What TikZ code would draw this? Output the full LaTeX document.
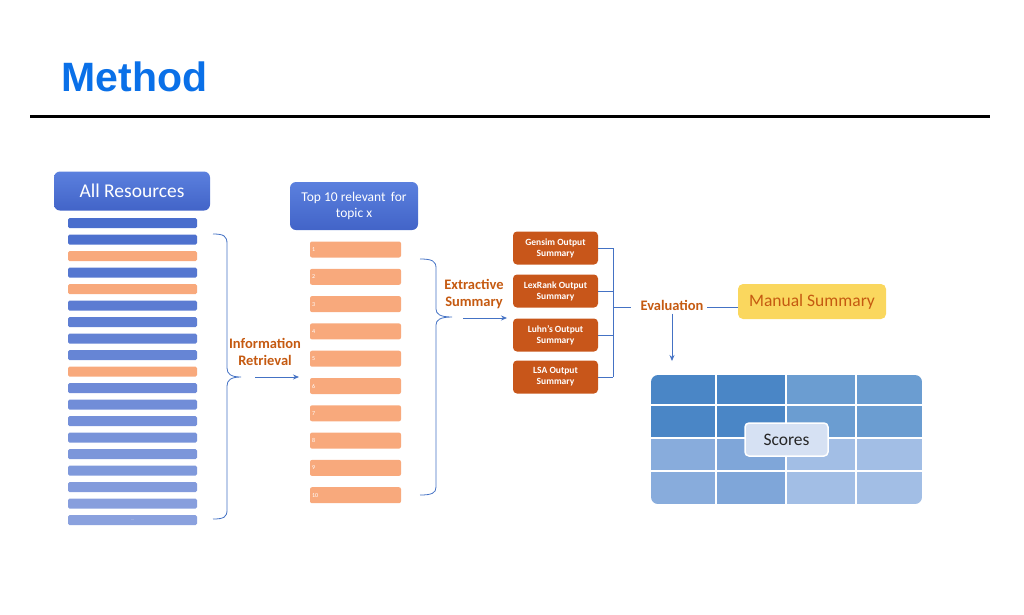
\documentclass[tikz,border=0pt]{standalone}
\usepackage{fontspec}
\setmainfont{Carlito}
\newfontfamily\titlefont{Liberation Sans}
\usetikzlibrary{arrows.meta}

\definecolor{resblue}{HTML}{4A6ECD}
\definecolor{reslight}{HTML}{A3B5E5}
\definecolor{resorange}{HTML}{F8A97C}
\definecolor{hdrtop}{HTML}{5B80DE}
\definecolor{hdrbot}{HTML}{4264C8}
\definecolor{outorange}{HTML}{C8561A}
\definecolor{linkblue}{HTML}{4472C4}
\definecolor{steporange}{HTML}{C55A11}
\definecolor{manyellow}{HTML}{FAD75E}
\definecolor{titleblue}{HTML}{0A70E8}
\definecolor{gridA}{HTML}{4A86C6}
\definecolor{gridB}{HTML}{6B9DD1}
\definecolor{gridC}{HTML}{88ACDC}
\definecolor{gridD}{HTML}{A2BEE5}
\definecolor{scorefill}{HTML}{D6E1F3}

\tikzset{
  header/.style={rounded corners=6pt, top color=hdrtop, bottom color=hdrbot,
    text=white, align=center, inner sep=2pt},
  bar/.style={rounded corners=1.5pt, minimum width=129pt, minimum height=10pt, inner sep=0pt},
  topbox/.style={rounded corners=2pt, fill=resorange, minimum height=16pt, text width=87pt,
    inner sep=2pt, align=left, text=white, font=\fontsize{6}{6}\selectfont},
  outbox/.style={rounded corners=4pt, fill=outorange, minimum width=85pt, minimum height=33pt,
    inner sep=1pt, align=center, text=white, font=\bfseries\fontsize{9.5}{11}\selectfont},
  steplabel/.style={text=steporange, align=center, font=\bfseries\fontsize{14.5}{17}\selectfont},
  link/.style={draw=linkblue, line width=0.8pt},
  flow/.style={link, -{Stealth[length=6pt,width=5pt]}},
}

\begin{document}
\begin{tikzpicture}[x=1pt,y=-1pt]
\useasboundingbox (0,0) rectangle (1024,614);

% title
\node[anchor=west, text=titleblue, font=\titlefont\bfseries\fontsize{41}{46}\selectfont]
  (title) at (58,77) {Method};
\draw[line width=3pt] (30,116) -- (990,116);

% all resources
\node[header, minimum width=156pt, minimum height=39pt, font=\fontsize{19.5}{21}\selectfont]
  (allres) at (132,191) {All Resources};
\foreach \i in {0,...,18}{
  \pgfmathtruncatemacro\mix{100-4*\i}
  \pgfmathtruncatemacro\isor{(\i==2)||(\i==4)||(\i==9)}
  \ifnum\isor=1 \def\barcol{resorange}\else\edef\barcol{resblue!\mix!reslight}\fi
  \node[bar, fill=\barcol] (r\i) at (132.5,{223+16.5*\i}) {};
}
\node[text=white!85!resblue, font=\fontsize{4}{4}\selectfont] at (r18) {...};

\draw[link] (213,234) .. controls (224,234) and (227,236) .. (227,244)
  -- (227,368) .. controls (227,374) and (231,377) .. (241,377)
  .. controls (231,377) and (227,380) .. (227,386)
  -- (227,510) .. controls (227,517) and (224,519) .. (213,519);

\node[steplabel] (ir) at (265,352) {Information\\Retrieval};
\coordinate (irfrom) at (255,377);
\coordinate (irto) at (299,377);
\draw[flow] (irfrom) -- (irto);

% top 10
\node[header, minimum width=128pt, minimum height=48pt, font=\fontsize{13.5}{15.5}\selectfont]
  (top) at (354,206) {Top 10 relevant\, for\\topic x};
\foreach \n in {1,...,10}
  \node[topbox] (t\n) at (355.5,{249.5+27.3*(\n-1)}) {\n};

\draw[link] (420,259) .. controls (432,259) and (436,261) .. (436,268)
  -- (436,309) .. controls (436,314) and (440,317) .. (452,317)
  .. controls (440,317) and (436,320) .. (436,325)
  -- (436,487) .. controls (436,493) and (432,495) .. (420,495);

\node[steplabel] (ext) at (474,294) {Extractive\\Summary};
\coordinate (exfrom) at (463,318);
\coordinate (exto) at (507,318);
\draw[flow] (exfrom) -- (exto);

% summarisers
\node[outbox] (gensim) at (555.5,248) {Gensim Output\\Summary};
\node[outbox] (lexrank) at (555.5,291) {LexRank Output\\Summary};
\node[outbox] (luhn) at (555.5,335) {Luhn's Output\\Summary};
\node[outbox] (lsa) at (555.5,377) {LSA Output\\Summary};

\node[steplabel] (eval) at (672,305) {Evaluation};
\node[rounded corners=5pt, fill=manyellow, minimum width=148pt, minimum height=35pt,
  text=steporange, font=\fontsize{17.5}{19}\selectfont] (manual) at (812,301.5) {Manual Summary};

\coordinate (join) at (613,307);
\foreach \o in {gensim,lexrank,luhn,lsa}
  \draw[link] (\o.east) -- (\o.east -| join);
\draw[link] (gensim.east -| join) -- (lsa.east -| join);
\draw[link, shorten >=6pt] (join) -- (join -| eval.west);
\draw[link] (join -| eval.east) -- (join -| manual.west);

\coordinate (gtop) at (672,361);
\draw[flow] (eval.south) -- (gtop);

% score grid
\begin{scope}
\clip[rounded corners=7pt] (651,375) rectangle (922,504);
\fill[gridA] (651,375) rectangle (786,438);
\fill[gridB] (786,375) rectangle (922,438);
\fill[gridC] (651,438) rectangle (786,504);
\fill[gridC!85!gridA] (716,438) rectangle (786,504);
\fill[gridD] (786,438) rectangle (922,504);
\foreach \x in {716,786,856} \draw[white, line width=1.5pt] (\x,375) -- (\x,504);
\foreach \y in {405,438,471} \draw[white, line width=1.5pt] (651,\y) -- (922,\y);
\end{scope}
\node[rounded corners=4pt, fill=scorefill, draw=white, line width=1.5pt,
  minimum width=83pt, minimum height=33pt, text=black!85,
  font=\fontsize{17.5}{19}\selectfont] (scores) at (786.5,439.5) {Scores};
\end{tikzpicture}
\end{document}
